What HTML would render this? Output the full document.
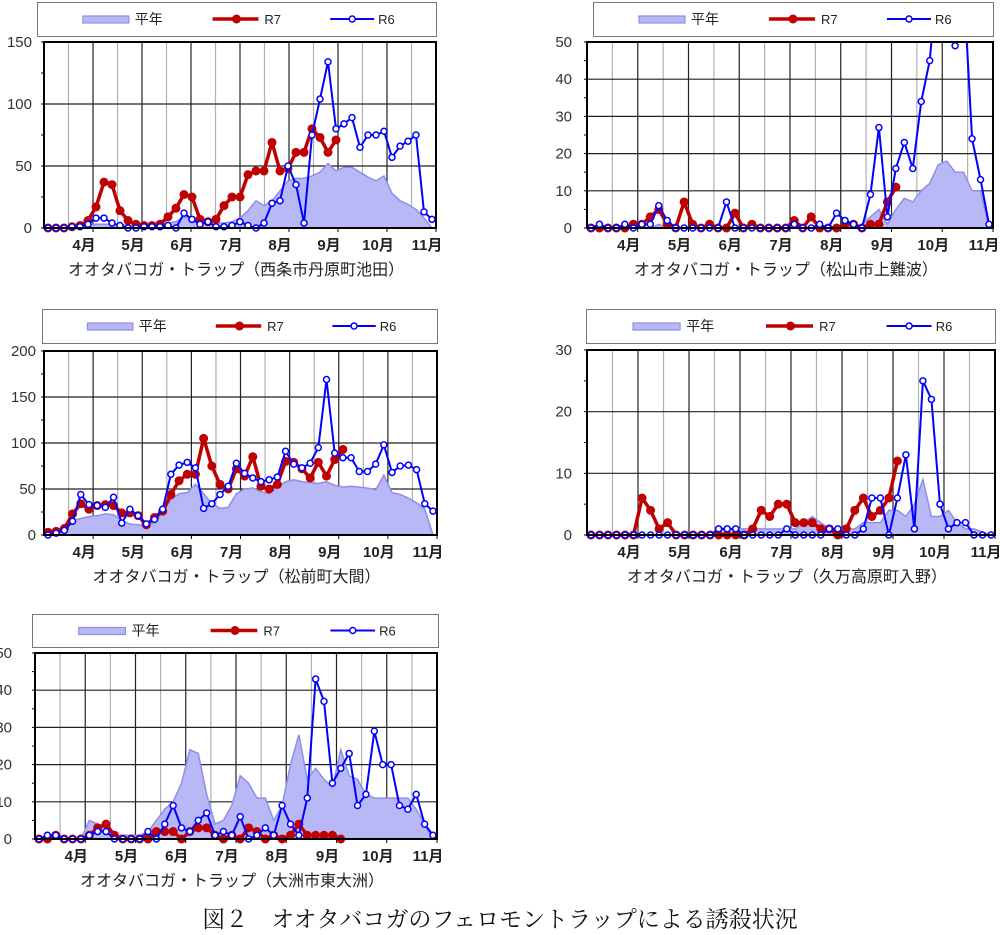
<!DOCTYPE html>
<html><head><meta charset="utf-8">
<style>
html,body{margin:0;padding:0;background:#fff;}
svg{display:block;}
</style></head>
<body>
<svg id="s" width="1000" height="935" xmlns="http://www.w3.org/2000/svg" font-family="'Liberation Sans','Noto Sans CJK JP',sans-serif"></svg>
<script>
const charts=[
{L:44,R:436,T:42,B:228,max:150,major:50,minor:25,lo:12,lg:[37,2,436,36],title:"オオタバコガ・トラップ（西条市丹原町池田）",
r6:[0,0,0,1,1,3,8,8,4,2,0,0,1,1,1,2,0,12,7,3,5,1,1,2,5,2,0,4,20,22,50,35,4,75,104,134,80,84,89,65,75,75,78,57,66,70,75,13,7],
r7:[0,0,0,1,2,6,17,37,35,14,6,3,2,2,3,9,16,27,25,7,5,7,18,25,25,43,46,46,69,46,48,61,61,80,73,61,71],
avg:[0,0,0,0,0,2,3,3,3,3,2,2,2,2,3,4,5,9,8,7,5,4,4,5,8,14,22,18,22,30,38,40,40,42,45,52,46,49,49,45,41,38,42,28,22,19,15,8,0]},
{L:587,R:993,T:42,B:228,max:50,major:10,minor:5,lo:15,lg:[593,2,993,36],title:"オオタバコガ・トラップ（松山市上難波）",
r6:[0,1,0,0,1,0,1,1,6,2,0,0,0,0,0,0,7,0,0,0,0,0,0,0,1,0,0,1,0,4,2,1,0,9,27,3,16,23,16,34,45,70,66,49,66,24,13,1],
r7:[0,0,0,0,0,1,1,3,5,1,0,7,1,0,1,0,0,4,0,1,0,0,0,0,2,0,3,0,0,0,1,1,0,1,1,7,11],
avg:[0,0,0,0,0,0,0,0,1,0,0,0,0,0,0,0,0,0,0,0,0,0,0,0,0,0,0,0,0,0,0,0,1,3,5,1,5,8,7,10,12,17,18,15,15,10,10,0]},
{L:44,R:437,T:351,B:535,max:200,major:50,minor:25,lo:8,lg:[42,309,437,343],title:"オオタバコガ・トラップ（松前町大間）",
r6:[0,2,5,15,44,33,32,30,41,13,28,21,12,17,28,66,76,79,73,29,34,44,53,78,67,62,58,60,63,91,77,73,78,95,169,89,84,84,69,69,77,98,68,75,76,71,34,26],
r7:[3,4,7,23,34,28,32,33,32,24,24,21,11,19,26,44,59,66,66,105,75,55,50,72,64,85,53,50,55,80,79,72,62,79,64,82,93],
avg:[0,3,8,16,18,20,21,23,22,16,12,11,10,14,25,38,45,46,55,45,34,29,30,45,50,51,47,45,52,58,60,58,57,56,58,54,52,53,52,51,49,65,46,44,40,35,28,0]},
{L:587,R:995,T:350,B:535,max:30,major:10,minor:5,lo:15,lg:[586,309,995,343],title:"オオタバコガ・トラップ（久万高原町入野）",
r6:[0,0,0,0,0,0,0,0,0,0,0,0,0,0,0,1,1,1,0,0,0,0,0,1,0,0,0,0,1,1,0,0,1,6,6,0,6,13,1,25,22,5,1,2,2,0,0,0],
r7:[0,0,0,0,0,0,6,4,1,2,0,0,0,0,0,0,0,0,0,1,4,3,5,5,2,2,2,1,1,0,1,4,6,3,4,6,12],
avg:[0,0,0,0,0,0,0,0,0,0,0,0,0,0,0,1,1,1,1,1,1,1,1,1,1,2,3,2,1,1,1,1,2,2,2,4,4,3,5,9,3,3,4,2,1,1,0.5,0]},
{L:35,R:437,T:653,B:839,max:50,major:10,minor:5,lo:23,lg:[32,614,438,647],title:"オオタバコガ・トラップ（大洲市東大洲）",
r6:[0,1,1,0,0,0,1,2,2,0,0,0,0,2,0,4,9,3,2,5,7,1,2,1,6,0,1,3,1,9,4,1,11,43,37,15,19,23,9,12,29,20,20,9,8,12,4,1],
r7:[0,0,1,0,0,0,1,3,4,1,0,0,0,0,2,2,2,0,2,3,3,1,0,1,0,3,2,0,1,0,1,4,1,1,1,1,0],
avg:[0,0,0,0,0,0,5,4,3,1,1,1,1,2,5,8,10,15,24,23,12,4,5,9,17,15,11,11,5,9,20,28,16,19,16,14,24,17,16,12,11,11,11,11,11,8,4,0]}
];
let h='';
charts.forEach((c,ci)=>{
 const W=c.R-c.L,H=c.B-c.T,cell=W/16;
 const n=c.r6.length;
 const x0=c.L+4,step=(W-8)/(n-1);
 const X=i=>x0+i*step,Y=v=>c.B-v/c.max*H;
 const [a,b,cc,d]=c.lg, lw=cc-a;
 h+=`<rect x="${a+.5}" y="${b+.5}" width="${lw}" height="${d-b}" fill="#fff" stroke="#777" stroke-width="1"/>`;
 const ly=(b+d)/2;
 h+=`<rect x="${a+lw*0.115}" y="${ly-3}" width="${lw*0.115}" height="7" fill="#b8b8f6" stroke="#8e8ee8" stroke-width="1.2"/>`;
 h+=`<text x="${a+lw*0.245}" y="${ly+5}" font-size="14" fill="#222">平年</text>`;
 h+=`<line x1="${a+lw*0.44}" y1="${ly}" x2="${a+lw*0.555}" y2="${ly}" stroke="#c00000" stroke-width="3.5"/><circle cx="${a+lw*0.5}" cy="${ly}" r="4.5" fill="#c00000"/>`;
 h+=`<text x="${a+lw*0.57}" y="${ly+5}" font-size="13" fill="#222">R7</text>`;
 h+=`<line x1="${a+lw*0.735}" y1="${ly}" x2="${a+lw*0.845}" y2="${ly}" stroke="#0000ff" stroke-width="2"/><circle cx="${a+lw*0.79}" cy="${ly}" r="3" fill="#fff" stroke="#0000ff" stroke-width="1.5"/>`;
 h+=`<text x="${a+lw*0.855}" y="${ly+5}" font-size="13" fill="#222">R6</text>`;
 for(let k=1;k<16;k++){const x=c.L+k*cell;
  h+=`<line x1="${x}" y1="${c.T}" x2="${x}" y2="${c.B}" stroke="${k%2?'#b0b0b0':'#222'}" stroke-width="1.2"/>`;}
 for(let v=c.major;v<c.max;v+=c.major){const y=Y(v);h+=`<line x1="${c.L}" y1="${y}" x2="${c.R}" y2="${y}" stroke="#222" stroke-width="1.2"/>`;}
 let p=`M${X(0)},${c.B}`;c.avg.forEach((v,i)=>p+=` L${X(i)},${Y(v)}`);p+=` L${X(c.avg.length-1)},${c.B}Z`;
 h+=`<path d="${p}" fill="#b8b8f6" stroke="#8e8ee8" stroke-width="1.5"/>`;
 h+=`<clipPath id="c${ci}"><rect x="${c.L}" y="${c.T}" width="${W}" height="${H+8}"/></clipPath><g clip-path="url(#c${ci})">`;
 h+=`<polyline fill="none" stroke="#c00000" stroke-width="3.5" stroke-linejoin="round" points="${c.r7.map((v,i)=>X(i)+','+Y(v)).join(' ')}"/>`;
 c.r7.forEach((v,i)=>h+=`<circle cx="${X(i)}" cy="${Y(v)}" r="4.5" fill="#c00000"/>`);
 h+=`<polyline fill="none" stroke="#0000ff" stroke-width="2" points="${c.r6.map((v,i)=>X(i)+','+Y(v)).join(' ')}"/>`;
 c.r6.forEach((v,i)=>{if(v<=c.max)h+=`<circle cx="${X(i)}" cy="${Y(v)}" r="3" fill="#fff" stroke="#0000ff" stroke-width="1.5"/>`});
 h+=`</g>`;
 h+=`<rect x="${c.L}" y="${c.T}" width="${W}" height="${H}" fill="none" stroke="#000" stroke-width="2"/>`;
 for(let v=0;v<=c.max;v+=c.minor){const y=Y(v);h+=`<line x1="${c.L-3}" y1="${y}" x2="${c.L}" y2="${y}" stroke="#000" stroke-width="1"/>`;
  if(v%c.major==0)h+=`<text x="${c.L-c.lo}" y="${y+5}" font-size="15" text-anchor="end" fill="#333">${v}</text>`;}
 for(let k=2;k<=16;k+=2){const x=c.L+k*cell;h+=`<line x1="${x}" y1="${c.B}" x2="${x}" y2="${c.B+4}" stroke="#000"/>`;
  h+=`<text x="${x-9}" y="${c.B+22}" font-size="15" font-weight="bold" text-anchor="middle" fill="#222">${3+k/2}月</text>`;}
 h+=`<text x="${c.L+W*0.49}" y="${c.B+47}" font-size="16" text-anchor="middle" fill="#222">${c.title}</text>`;
});
h+=`<text x="500" y="927" font-size="23" text-anchor="middle" font-family="'Liberation Serif','Noto Serif CJK SC',serif" fill="#111">図２　オオタバコガのフェロモントラップによる誘殺状況</text>`;
document.getElementById('s').innerHTML=h;
</script>
</body></html>
